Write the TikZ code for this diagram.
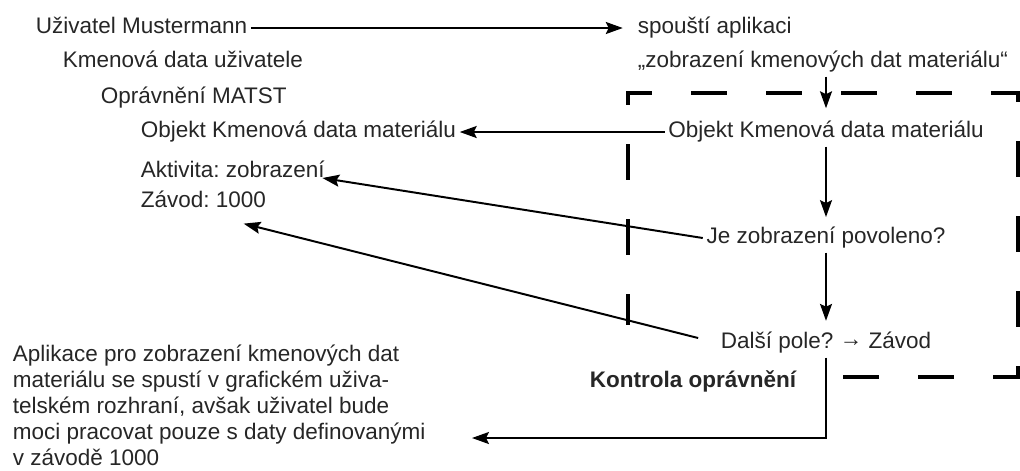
\documentclass[tikz,border=0pt]{standalone}
\usepackage{fontspec}
\setmainfont{Liberation Sans}
\usetikzlibrary{arrows.meta}
\frenchspacing
\begin{document}
\begin{tikzpicture}[x=0.025cm, y=-0.025cm, >={Stealth[length=12pt,width=8.5pt,inset=2pt]}, line width=1.4pt,
  font=\fontsize{16}{18.6}\selectfont,
  txt/.style={inner sep=2pt, text height=11.8pt, text depth=3.6pt, text=black!85},
  lft/.style={txt, anchor=west},
  frame/.style={line width=2.85pt, dash pattern=on 0.9cm off 0.975cm}]
\useasboundingbox (0,0) rectangle (1020,470);

\node[lft] (user) at (32,28){Uživatel Mustermann};
\node[lft] (udata) at (59,62){Kmenová data uživatele};
\node[lft] (auth) at (97,98){Oprávnění MATST};
\node[lft] (objL) at (137,132){Objekt Kmenová data materiálu};
\node[lft] (act) at (137,172){Aktivita: zobrazení};
\node[lft] (plant) at (137,202){Závod: 1000};

\node[lft] (start) at (634,28){spouští aplikaci};
\node[lft] (app) at (634,62){„zobrazení kmenových dat materiálu“};
\node[txt] (objR) at (826,132){Objekt Kmenová data materiálu};
\node[txt] (perm) at (826,238){Je zobrazení povoleno?};
\node[txt] (next) at (826,343){Další pole? \raisebox{1.8pt}{→} Závod};
\node[txt, font=\fontsize{16}{18.6}\selectfont\bfseries] (ctrl) at (693,382){Kontrola oprávnění};
\node[txt, anchor=north west, text height=, text depth=, align=left] (note) at (9,341)
  {Aplikace pro zobrazení kmenových dat\\materiálu se spustí v grafickém uživa-\\telském rozhraní, avšak uživatel bude\\moci pracovat pouze s daty definovanými\\v závodě 1000};
\coordinate (noteTip) at (472,438);

\draw[frame] (843,377) -- (1018,377) -- (1018,93) -- (628,93) -- (628,325);

\draw[->, shorten >=8pt] (user) -- (start);
\draw[->, shorten >=6.5pt] (app.south -| objR) -- (objR);
\draw[->] (objR) -- (objL);
\draw[->, shorten >=4.5pt] (objR) -- (perm);
\draw[->] (perm.west) -- ([shift={(-6,6)}]act.east);
\draw[->, shorten >=5.4pt] (perm) -- (next);
\draw[->] ([shift={(-19,-5)}]next.west) -- ([shift={(-26,7)}]plant.south east);
\draw[->] (next.south) |- (noteTip);
\end{tikzpicture}
\end{document}
